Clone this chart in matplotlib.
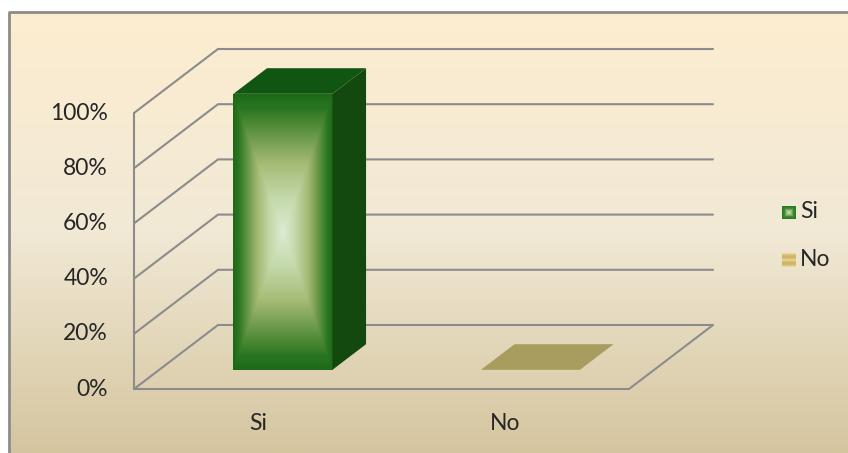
import numpy as np
import matplotlib.pyplot as plt
from matplotlib.colors import LinearSegmentedColormap
from matplotlib.patches import Polygon

# survey answers (share of respondents)
categories = ["Si", "No"]
values = [1.0, 0.0]
ticks = [0, 0.2, 0.4, 0.6, 0.8, 1.0]
tick_labels = ["0%", "20%", "40%", "60%", "80%", "100%"]

top_colors = ["#115513", "#a89c5f"]
side_colors = ["#13490f", "#a89c5f"]

plt.rcParams["font.family"] = ["Lato", "DejaVu Sans"]
TXT = "#262626"

W, H = 848, 453
fig = plt.figure(figsize=(W / 100, H / 100), dpi=100)

# background layer, pixel coordinates
bg = fig.add_axes([0, 0, 1, 1])
bg.axis("off")
paper = LinearSegmentedColormap.from_list(
    "paper", [(0, "#fdedd0"), (0.5, "#f1e9d5"), (1, "#d5c59f")])
bg.imshow(np.linspace(0, 1, 256).reshape(-1, 1), cmap=paper, aspect="auto",
          extent=(9, W, H, 13), interpolation="bilinear")
bg.plot([9, 9, W], [H, 12, 12], color="#8c8c8c", lw=2)
bg.set_xlim(0, W)
bg.set_ylim(H, 0)

# chart layer: x in category units, y in value units, 3D depth as offset
ax = fig.add_axes([0, 0, 1, 1])
ax.patch.set_alpha(0)
ax.axis("off")
x0, y0 = 134, 389      # front-left floor corner (px)
cw, vh = 247.5, 276    # px per category, px per 100%
dx, dy = 84 / cw, 64 / vh
n = len(categories)

gl = dict(color="#8c8c8c", lw=1.5, solid_capstyle="round", zorder=1)
for t in ticks:
    ax.plot([0, dx, n + dx], [t, t + dy, t + dy], **gl)
ax.plot([0, 0], [0, ticks[-1]], **gl)
ax.plot([0, n, n + dx], [0, 0, dy], **gl)

for t, lab in zip(ticks, tick_labels):
    ax.text(-26 / cw, t, lab, ha="right", va="center", fontsize=16.5, color=TXT)
for i, cat in enumerate(categories):
    ax.text(i + 0.5, -34 / vh, cat, ha="center", va="center", fontsize=16.5, color=TXT)

face = LinearSegmentedColormap.from_list(
    "face", [(0, "#dcebd2"), (0.25, "#c3d8a8"), (0.5, "#a5ba74"),
             (0.78, "#4f8a36"), (0.9, "#2a7522"), (1, "#1c6a17")])
bw = 0.4
z0, z1 = 0.3, 0.7
ddx, ddy = (z1 - z0) * dx, (z1 - z0) * dy
for i, v in enumerate(values):
    xl = i + 0.5 - bw / 2 + z0 * dx
    xr = xl + bw
    yb = z0 * dy
    yt = yb + v
    if v > 0:
        u = np.abs(np.linspace(-1, 1, 200))
        w = np.abs(np.linspace(-1, 1, 400))
        d = np.maximum(u[None, :], w[:, None])
        ax.imshow(d, cmap=face, extent=(xl, xr, yb, yt), aspect="auto",
                  interpolation="bilinear", zorder=3)
        ax.add_patch(Polygon([(xr, yb), (xr + ddx, yb + ddy), (xr + ddx, yt + ddy), (xr, yt)],
                             fc=side_colors[i], ec="none", zorder=3))
    ax.add_patch(Polygon([(xl, yt), (xl + ddx, yt + ddy), (xr + ddx, yt + ddy), (xr, yt)],
                         fc=top_colors[i], ec="none", zorder=3))

ax.set_xlim(-x0 / cw, (W - x0) / cw)
ax.set_ylim(-(H - y0) / vh, y0 / vh)

# legend
sq = np.maximum(np.abs(np.linspace(-1, 1, 14))[None, :], np.abs(np.linspace(-1, 1, 13))[:, None])
leg_si = LinearSegmentedColormap.from_list("lsi", ["#c4dab0", "#8fb876", "#3a8a2e", "#2c7a24"])
ax_l = bg
ax_l.imshow(sq, cmap=leg_si, extent=(782, 796, 219, 206), interpolation="bilinear", zorder=3)
stripes = np.abs(np.sin(np.linspace(0, 2 * np.pi, 14)))[:, None] * np.ones((1, 14))
leg_no = LinearSegmentedColormap.from_list("lno", ["#e9d99c", "#cfb463"])
ax_l.imshow(stripes, cmap=leg_no, extent=(782, 796, 267, 253), interpolation="bilinear", zorder=3)
ax_l.text(800, 212, categories[0], ha="left", va="center", fontsize=16.5, color=TXT)
ax_l.text(800, 260, categories[1], ha="left", va="center", fontsize=16.5, color=TXT)
bg.set_xlim(0, W)
bg.set_ylim(H, 0)

fig.savefig("out.png", dpi=100)
